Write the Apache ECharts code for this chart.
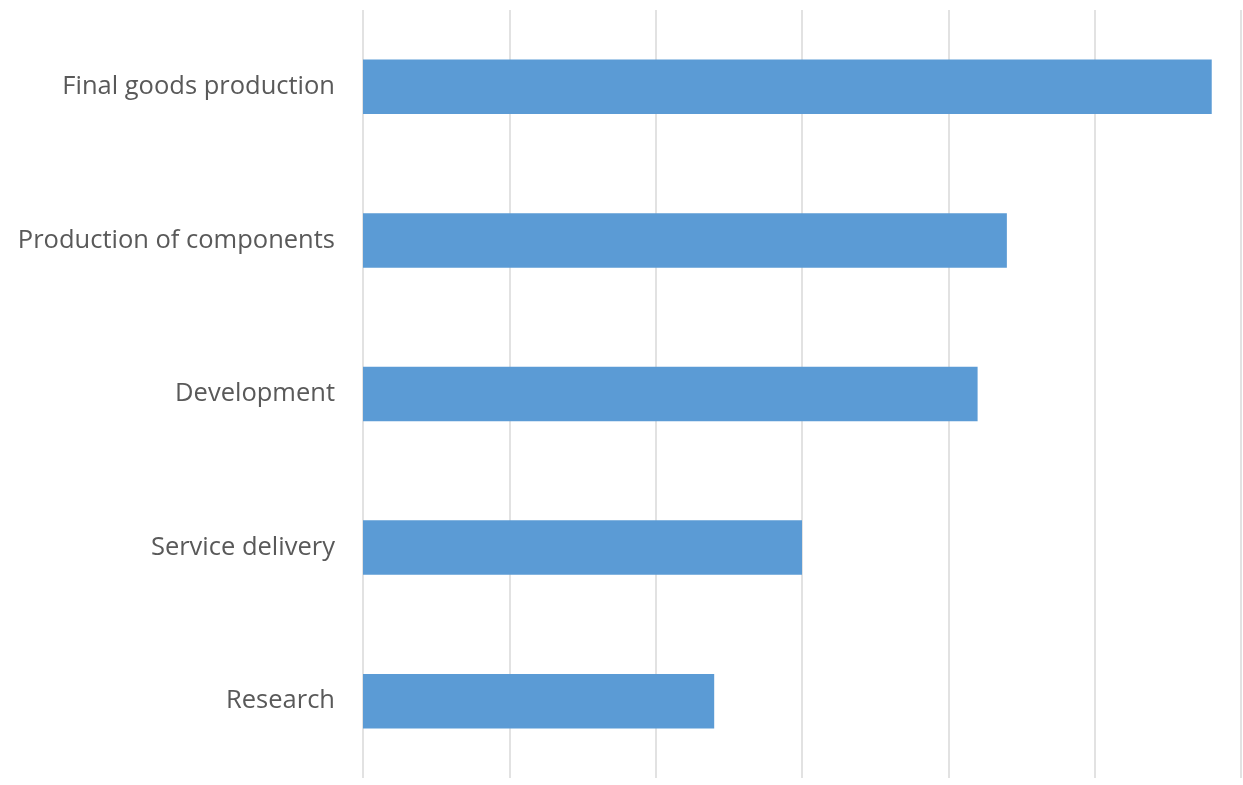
<!DOCTYPE html>
<html><head><meta charset="utf-8">
<script src="https://cdn.jsdelivr.net/npm/echarts@6/dist/echarts.min.js"></script>
<style>html,body{margin:0;padding:0;background:#fff}#c{width:1243px;height:785px}</style>
</head><body><div id="c"></div>
<script>
const categories = ["Research", "Service delivery", "Development", "Production of components", "Final goods production"];
const values = [2.4, 3.0, 4.2, 4.4, 5.8];
const chart = echarts.init(document.getElementById('c'));
chart.setOption({
  animation: false,
  grid: {left: 363, right: 2, top: 10, bottom: 7, containLabel: false},
  xAxis: {type: 'value', min: 0, max: 6, interval: 1,
    axisLabel: {show: false}, axisLine: {show: false}, axisTick: {show: false},
    splitLine: {show: true, lineStyle: {color: '#d9d9d9', width: 1.5}}},
  yAxis: {type: 'category', data: categories,
    axisLine: {show: false}, axisTick: {show: false},
    axisLabel: {color: '#595959', fontSize: 25.5, fontFamily: 'Open Sans', margin: 28, padding: [9, 0, 0, 0]}},
  series: [{type: 'bar', data: values, barWidth: '35.5%', itemStyle: {color: '#5B9BD5'}}]
});
</script></body></html>
